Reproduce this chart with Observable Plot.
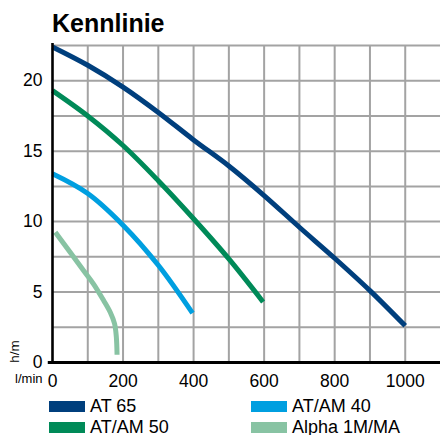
<!DOCTYPE html>
<html>
<head>
<meta charset="utf-8">
<script src="https://cdn.jsdelivr.net/npm/d3@7"></script>
<script src="https://cdn.jsdelivr.net/npm/@observablehq/plot@0.6"></script>
<style>
  html, body { margin: 0; padding: 0; background: #fff; }
  body { width: 440px; height: 435px; position: relative; overflow: hidden;
         font-family: "Liberation Sans", Arial, Helvetica, sans-serif; }
  #title { position: absolute; left: 52px; top: 11px; font-size: 25px; font-weight: bold;
           line-height: 25px; color: #000; }
  #chart { position: absolute; left: 0; top: 0; }
  .leg { position: absolute; display: flex; align-items: center; font-size: 18px; height: 20px; color: #000; }
  .sw { width: 36px; height: 11px; margin-right: 5px; }
</style>
</head>
<body>
<div id="title">Kennlinie</div>
<div id="chart"></div>
<div id="legend"></div>
<script>
// ---- data ----
const seriesNames = ["AT 65", "AT/AM 50", "AT/AM 40", "Alpha 1M/MA"];
const seriesColors = ["#003f7d", "#008a58", "#009fe0", "#88c3a3"];

const at65X = [0, 100, 200, 300, 400, 500, 600, 700, 800, 900, 1000];
const at65Y = [22.4, 21.1, 19.55, 17.75, 15.8, 13.95, 11.85, 9.6, 7.4, 5.1, 2.6];

const at50X = [0, 100, 200, 300, 400, 500, 597];
const at50Y = [19.3, 17.5, 15.4, 12.9, 10.2, 7.35, 4.3];

const at40X = [0, 100, 200, 300, 397];
const at40Y = [13.4, 12.0, 9.75, 6.9, 3.5];

const alphaX = [8, 89, 117, 145, 164, 176, 181, 183];
const alphaY = [9.25, 6.5, 5.55, 4.4, 3.55, 2.75, 1.8, 0.55];

const xTicks = [0, 200, 400, 600, 800, 1000];
const yTicks = [0, 5, 10, 15, 20];
const xGrid = [100, 200, 300, 400, 500, 600, 700, 800, 900, 1000];
const yGrid = [2.5, 5, 7.5, 10, 12.5, 15, 17.5, 20, 22.5];

// ---- build ----
const seriesXY = [[at65X, at65Y], [at50X, at50Y], [at40X, at40Y], [alphaX, alphaY]];
const rows = [];
seriesXY.forEach(([xs, ys], i) => xs.forEach((x, j) => rows.push({series: seriesNames[i], x, y: ys[j]})));

const font = "'Liberation Sans', Arial, Helvetica, sans-serif";

const chart = Plot.plot({
  width: 440,
  height: 400,
  marginTop: 45,
  marginBottom: 38,
  marginLeft: 52,
  marginRight: 0,
  style: {fontFamily: font, color: "#000", background: "transparent", overflow: "visible"},
  x: {domain: [0, 1100], axis: null},
  y: {domain: [0, 22.5], axis: null},
  color: {domain: seriesNames, range: seriesColors},
  marks: [
    Plot.ruleX(xGrid, {stroke: "#a3a3a3", strokeWidth: 2, strokeOpacity: 1}),
    Plot.ruleY(yGrid, {stroke: "#a3a3a3", strokeWidth: 2, strokeOpacity: 1}),
    Plot.line(rows, {x: "x", y: "y", z: "series", stroke: "series", strokeWidth: 5,
                     curve: "catmull-rom", strokeLinecap: "butt", strokeLinejoin: "round"}),
    Plot.ruleX([0], {y1: 0, y2: 22.65, stroke: "#000", strokeWidth: 2.6}),
    Plot.ruleY([0], {x1: -12, x2: 1100, stroke: "#000", strokeWidth: 2.8}),
    Plot.axisX(xTicks, {tickSize: 0, tickPadding: 12, fontSize: 17.5, label: null, tickFormat: d => String(d)}),
    Plot.axisY(yTicks, {tickSize: 0, tickPadding: 10, fontSize: 17.5, label: null, tickFormat: d => String(d)}),
    Plot.text(["l/min"], {frameAnchor: "bottom-left", dx: -10, dy: 20, textAnchor: "end", fontSize: 13}),
    Plot.text(["h/m"], {frameAnchor: "bottom-left", dx: -34, dy: -11, rotate: -90, textAnchor: "middle", fontSize: 13.5})
  ]
});
document.getElementById("chart").appendChild(chart);

// ---- legend ----
const legPos = [[49, 396], [49, 417], [251, 396], [251, 417]];
const legOrder = [0, 1, 2, 3];
const legend = document.getElementById("legend");
legOrder.forEach((i, k) => {
  const d = document.createElement("div");
  d.className = "leg";
  d.style.left = legPos[k][0] + "px";
  d.style.top = legPos[k][1] + "px";
  const sw = document.createElement("div");
  sw.className = "sw";
  sw.style.background = seriesColors[i];
  const t = document.createElement("span");
  t.textContent = seriesNames[i];
  d.appendChild(sw); d.appendChild(t);
  legend.appendChild(d);
});
</script>
</body>
</html>
